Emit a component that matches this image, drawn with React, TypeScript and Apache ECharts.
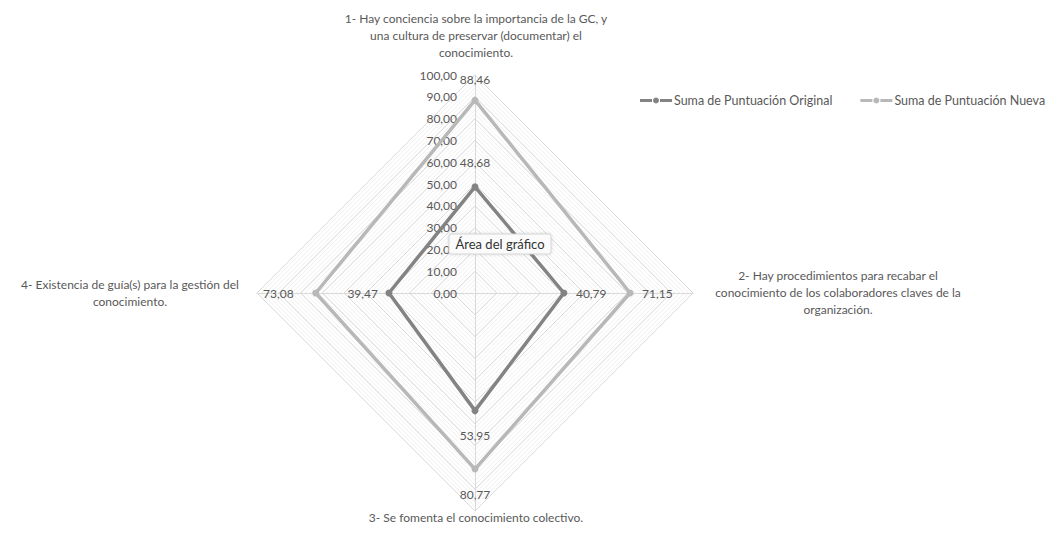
import React, { useEffect, useRef } from "react";
import * as echarts from "echarts";

// ---- data ----
const INDICATORS = [
  "1- Hay conciencia sobre la importancia de la GC, y\nuna cultura de preservar (documentar) el\nconocimiento.",
  "2- Hay procedimientos para recabar el\nconocimiento de los colaboradores claves de la\norganización.",
  "3- Se fomenta el conocimiento colectivo.",
  "4- Existencia de guía(s) para la gestión del\nconocimiento.",
];
const SERIES_NAMES = ["Suma de Puntuación Original", "Suma de Puntuación Nueva"];
const ORIGINAL = [48.68, 40.79, 53.95, 39.47];
const NUEVA = [88.46, 71.15, 80.77, 73.08];
const AXIS_MAX = 100;
const AXIS_SPLITS = 10;

// ---- layout / style ----
const FONT = "Lato, 'Noto Sans', sans-serif";
const CX = 475;
const CY = 293;
const R = 218;
// ECharts lays indicators counter-clockwise from the top: top, left, bottom, right
const ORDER = [0, 3, 2, 1];
const COLORS = ["#838383", "#b8b8b8"];
const TEXT = "#595959";

const fmt = (v: number) => v.toFixed(2).replace(".", ",");

const NAME_POS = [
  { x: 476, y: 10 },
  { x: 838, y: 267 },
  { x: 476, y: 509 },
  { x: 130, y: 276 },
];

const legendIcon =
  "path://M0,2.5H12V5.5H0Z M20,2.5H32V5.5H20Z M16,1A3,3 0 1,1 15.99,1Z";

export default function App() {
  const ref = useRef<HTMLDivElement>(null);
  useEffect(() => {
    if (!ref.current) return;
    const chart = echarts.init(ref.current, undefined, { renderer: "svg" });
    const reorder = (arr: number[]) => ORDER.map((i) => arr[i]);
    const indicatorBase = ORDER.map((i) => ({ name: INDICATORS[i], min: 0, max: AXIS_MAX }));

    const radarCommon = {
      center: [CX, CY],
      radius: R,
      startAngle: 90,
      shape: "polygon",
      axisName: { show: false },
      splitArea: { show: false },
    };

    const series = [ORIGINAL, NUEVA].map((vals, si) => ({
      type: "radar",
      radarIndex: 0,
      name: SERIES_NAMES[si],
      z: 3 + si,
      symbol: "circle",
      symbolSize: 7,
      lineStyle: { color: COLORS[si], width: 3.5 },
      itemStyle: { color: COLORS[si] },
      label: {
        show: true,
        formatter: (p: any) => fmt(Number(p.value)),
        color: TEXT,
        fontSize: 12,
        fontFamily: FONT,
      },
      labelLayout: (p: any) => {
        const x = p.rect.x + p.rect.width / 2;
        const y = p.rect.y + p.rect.height / 2;
        const dx = x - CX;
        const dy = y - CY;
        if (Math.abs(dy) > Math.abs(dx)) {
          if (dy < 0) return { x, y: y - (si === 0 ? 24 : 21), align: "center", verticalAlign: "middle" };
          return { x, y: y + 25, align: "center", verticalAlign: "middle" };
        }
        if (dx > 0) return { x: x + 12, y, align: "left", verticalAlign: "middle" };
        return { x: x - (si === 0 ? 11 : 22), y, align: "right", verticalAlign: "middle" };
      },
      data: [{ name: SERIES_NAMES[si], value: reorder(vals) }],
    }));

    chart.setOption({
      animation: false,
      backgroundColor: "#ffffff",
      textStyle: { fontFamily: FONT },
      legend: {
        top: 94,
        left: 640,
        width: 420,
        padding: 0,
        itemGap: 28,
        itemWidth: 32,
        itemHeight: 7,
        textStyle: { fontSize: 12.5, color: TEXT, fontFamily: FONT, padding: [0, 0, 0, -3] },
        data: SERIES_NAMES.map((n) => ({ name: n, icon: legendIcon })),
      },
      radar: [
        {
          ...radarCommon,
          splitNumber: AXIS_SPLITS,
          indicator: indicatorBase.map((ind, k) =>
            k === 0 ? { ...ind, axisLabel: { show: true } } : ind
          ),
          splitLine: { lineStyle: { color: "#d9d9d9", width: 1 } },
          axisLine: { lineStyle: { color: "#d9d9d9", width: 1 } },
          axisLabel: {
            show: false,
            formatter: (v: number) => fmt(v),
            color: TEXT,
            fontSize: 12,
            fontFamily: FONT,
            margin: 18,
            align: "right",
          },
          z: 2,
        },
        {
          ...radarCommon,
          splitNumber: AXIS_SPLITS * 5,
          indicator: indicatorBase,
          splitLine: { lineStyle: { color: "#f0f0f0", width: 1 } },
          axisLine: { show: false },
          axisLabel: { show: false },
          z: 1,
        },
      ],
      series,
      graphic: [
        ...ORDER.map((_, k) => ({
          type: "text",
          x: NAME_POS[k].x,
          y: NAME_POS[k].y,
          style: {
            text: INDICATORS[k],
            fill: TEXT,
            font: `12px ${FONT}`,
            align: "center",
            verticalAlign: "top",
            lineHeight: 17,
          },
        })),
        {
          type: "rect",
          z: 100,
          zlevel: 0,
          shape: { x: 449, y: 234, width: 102, height: 20, r: 2 },
          style: {
            fill: "#fbfbfb",
            stroke: "#d4d4d4",
            lineWidth: 1,
            shadowBlur: 3,
            shadowColor: "rgba(0,0,0,0.15)",
          },
        },
        {
          type: "text",
          z: 101,
          x: 500,
          y: 244,
          style: {
            text: "Área del gráfico",
            fill: "#333333",
            font: `13px ${FONT}`,
            align: "center",
            verticalAlign: "middle",
          },
        },
      ],
    });
    return () => chart.dispose();
  }, []);
  return (
    <div
      ref={ref}
      style={{ position: "fixed", left: 0, top: 0, width: 1060, height: 536, background: "#fff" }}
    />
  );
}
